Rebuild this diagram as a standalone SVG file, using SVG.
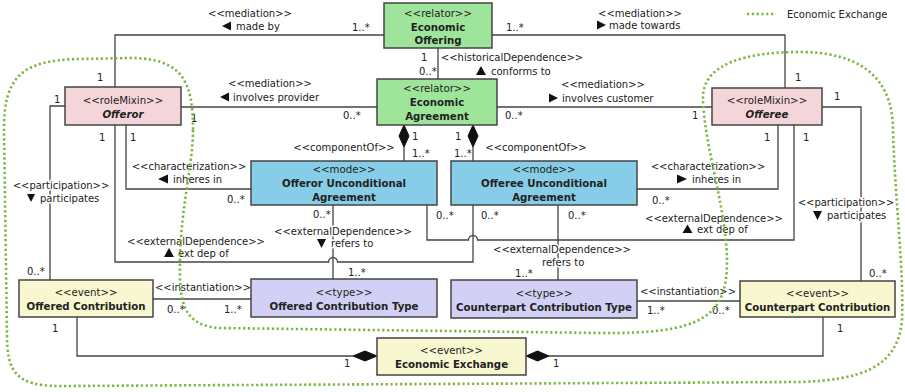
<svg xmlns="http://www.w3.org/2000/svg" width="905" height="392" viewBox="0 0 905 392">
  <style>
    text { font-family: "DejaVu Sans", "Liberation Sans", sans-serif; fill: #222; }
    .st { font-size: 10.2px; text-anchor: middle; }
    .nm { font-size: 10.2px; font-weight: bold; text-anchor: middle; }
    .it { font-style: italic; }
    .lb { font-size: 10px; paint-order: stroke; stroke: #fff; stroke-width: 3px; stroke-linejoin: round; }
    .c { text-anchor: middle; }
    .m { font-size: 10px; }
    .box { stroke: #444; stroke-width: 1.5; }
    .relator { fill: #9ee59b; }
    .role { fill: #f4d5da; }
    .mode { fill: #87cde8; }
    .type { fill: #d2d0f4; }
    .event { fill: #f8f7cf; }
    .edge { fill: none; stroke: #444; stroke-width: 1.3; }
    .dia { fill: #111; stroke: #111; stroke-width: 1; }
    .tri { fill: #111; }
    .group { fill: none; stroke: #7bb53f; stroke-width: 2.6; stroke-dasharray: 2.2 2.6; }
  </style>

  <!-- connectors -->
  <g id="connectors">
    <path class="edge" d="M115,87 V35 H384"/>
    <path class="edge" d="M492,35 H785 V88"/>
    <path class="edge" d="M181,107 H377"/>
    <path class="edge" d="M497,107 H712"/>
    <path class="edge" d="M438,48 V79"/>
    <path class="edge" d="M404,147 V161"/>
    <polygon class="dia" points="404,125 409,136 404,147 399,136"/>
    <path class="edge" d="M473,147 V161"/>
    <polygon class="dia" points="473,125 478,136 473,147 468,136"/>
    <path class="edge" d="M126,125 V189 H251"/>
    <path class="edge" d="M778,125 V189 H637"/>
    <path class="edge" d="M65,106 H50 V280"/>
    <path class="edge" d="M822,107 H861 V281"/>
    <path class="edge" d="M115,125 V262 H328.5 A4.5,4.5 0 0 1 337.5,262 H473 V205"/>
    <path class="edge" d="M427,205 V240 H468.5 A4.5,4.5 0 0 1 477.5,240 H794 V125"/>
    <path class="edge" d="M333,205 V279"/>
    <path class="edge" d="M558,205 V280"/>
    <path class="edge" d="M153,299 H251"/>
    <path class="edge" d="M637,301 H740"/>
    <path class="edge" d="M77,317 V356 H353"/>
    <polygon class="dia" points="377,356 365,351 353,356 365,361"/>
    <path class="edge" d="M823,317 V356 H549"/>
    <polygon class="dia" points="526,356 537.5,351 549,356 537.5,361"/>

    <!-- connector labels -->
    <text class="lb c" x="250" y="17">&lt;&lt;mediation&gt;&gt;</text>
    <polygon class="tri" points="222,26 231,21.5 231,30.5"/>
    <text class="lb" x="236" y="30">made by</text>

    <text class="lb c" x="640" y="17">&lt;&lt;mediation&gt;&gt;</text>
    <polygon class="tri" points="597,20.5 606,25 597,29.5"/>
    <text class="lb" x="609" y="29">made towards</text>

    <text class="lb c" x="270" y="87">&lt;&lt;mediation&gt;&gt;</text>
    <polygon class="tri" points="220,97 229,92.5 229,101.5"/>
    <text class="lb" x="233" y="101">involves provider</text>

    <text class="lb c" x="603" y="88">&lt;&lt;mediation&gt;&gt;</text>
    <polygon class="tri" points="549,93.5 558,98 549,102.5"/>
    <text class="lb" x="562" y="102">involves customer</text>

    <text class="lb c" x="512" y="61">&lt;&lt;historicalDependence&gt;&gt;</text>
    <polygon class="tri" points="481,66 486,75 476,75"/>
    <text class="lb" x="491" y="75">conforms to</text>

    <text class="lb c" x="344" y="151">&lt;&lt;componentOf&gt;&gt;</text>
    <text class="lb c" x="536" y="151">&lt;&lt;componentOf&gt;&gt;</text>

    <text class="lb c" x="189" y="170">&lt;&lt;characterization&gt;&gt;</text>
    <polygon class="tri" points="158,179 168,174.5 168,183.5"/>
    <text class="lb" x="173" y="183">inheres in</text>

    <text class="lb c" x="708" y="170">&lt;&lt;characterization&gt;&gt;</text>
    <polygon class="tri" points="677,174.5 687,179 677,183.5"/>
    <text class="lb" x="692" y="183">inheres in</text>

    <text class="lb c" x="61" y="189">&lt;&lt;participation&gt;&gt;</text>
    <polygon class="tri" points="27,194 35,194 31,202"/>
    <text class="lb" x="40" y="202">participates</text>

    <text class="lb c" x="846" y="206">&lt;&lt;participation&gt;&gt;</text>
    <polygon class="tri" points="813,211 822,211 817.5,220"/>
    <text class="lb" x="827" y="219">participates</text>

    <text class="lb c" x="196" y="245">&lt;&lt;externalDependence&gt;&gt;</text>
    <polygon class="tri" points="169,248 174,257 164,257"/>
    <text class="lb" x="178" y="257">ext dep of</text>

    <text class="lb c" x="343" y="235">&lt;&lt;externalDependence&gt;&gt;</text>
    <polygon class="tri" points="317,239 326,239 321.5,248"/>
    <text class="lb" x="331" y="247">refers to</text>

    <text class="lb c" x="714" y="222">&lt;&lt;externalDependence&gt;&gt;</text>
    <polygon class="tri" points="687.5,224.5 692.5,233 682.5,233"/>
    <text class="lb" x="697" y="233">ext dep of</text>

    <text class="lb c" x="562" y="253">&lt;&lt;externalDependence&gt;&gt;</text>
    <text class="lb" x="542" y="266">refers to</text>

    <text class="lb c" x="203" y="291">&lt;&lt;instantiation&gt;&gt;</text>
    <text class="lb c" x="688" y="295">&lt;&lt;instantiation&gt;&gt;</text>

    <!-- multiplicities -->
    <text class="m" x="352" y="31">1..*</text>
    <text class="m" x="97" y="81">1</text>
    <text class="m" x="506" y="31">1..*</text>
    <text class="m" x="795" y="81">1</text>
    <text class="m" x="191" y="122">1</text>
    <text class="m" x="343" y="119">0..*</text>
    <text class="m" x="421" y="61">1</text>
    <text class="m" x="419" y="75">0..*</text>
    <text class="m" x="505" y="119">0..*</text>
    <text class="m" x="692" y="119">1</text>
    <text class="m" x="834" y="100">1</text>
    <text class="m" x="54" y="103">1</text>
    <text class="m" x="130" y="141">1</text>
    <text class="m" x="99" y="141">1</text>
    <text class="m" x="227" y="203">0..*</text>
    <text class="m" x="412" y="140">1</text>
    <text class="m" x="412" y="157">1..*</text>
    <text class="m" x="455" y="140">1</text>
    <text class="m" x="454" y="157">1..*</text>
    <text class="m" x="313" y="218">0..*</text>
    <text class="m" x="436" y="219">0..*</text>
    <text class="m" x="481" y="219">0..*</text>
    <text class="m" x="568" y="219">0..*</text>
    <text class="m" x="652" y="204">0..*</text>
    <text class="m" x="764" y="141">1</text>
    <text class="m" x="803" y="141">1</text>
    <text class="m" x="348" y="276">1..*</text>
    <text class="m" x="515" y="277">1..*</text>
    <text class="m" x="869" y="277">0..*</text>
    <text class="m" x="27" y="275">0..*</text>
    <text class="m" x="167" y="313">0..*</text>
    <text class="m" x="224" y="313">1..*</text>
    <text class="m" x="647" y="314">1..*</text>
    <text class="m" x="712" y="314">0..*</text>
    <text class="m" x="52" y="332">1</text>
    <text class="m" x="344" y="367">1</text>
    <text class="m" x="553" y="367">1</text>
    <text class="m" x="837" y="332">1</text>
  </g>

  <!-- nodes -->
  <g id="economic-offering">
    <rect class="box relator" x="384" y="3" width="108" height="45"/>
    <text class="st" x="438" y="17">&lt;&lt;relator&gt;&gt;</text>
    <text class="nm" x="438" y="31">Economic</text>
    <text class="nm" x="438" y="44">Offering</text>
  </g>
  <g id="economic-agreement">
    <rect class="box relator" x="377" y="79" width="120" height="46"/>
    <text class="st" x="437" y="92">&lt;&lt;relator&gt;&gt;</text>
    <text class="nm" x="437" y="106">Economic</text>
    <text class="nm" x="437" y="120">Agreement</text>
  </g>
  <g id="offeror">
    <rect class="box role" x="65" y="87" width="116" height="38"/>
    <text class="st" x="123" y="104">&lt;&lt;roleMixin&gt;&gt;</text>
    <text class="nm it" x="123" y="118">Offeror</text>
  </g>
  <g id="offeree">
    <rect class="box role" x="712" y="88" width="110" height="37"/>
    <text class="st" x="767" y="104">&lt;&lt;roleMixin&gt;&gt;</text>
    <text class="nm it" x="767" y="118">Offeree</text>
  </g>
  <g id="offeror-unconditional-agreement">
    <rect class="box mode" x="251" y="161" width="186" height="44"/>
    <text class="st" x="344" y="173">&lt;&lt;mode&gt;&gt;</text>
    <text class="nm" x="344" y="187">Offeror Unconditional</text>
    <text class="nm" x="344" y="201">Agreement</text>
  </g>
  <g id="offeree-unconditional-agreement">
    <rect class="box mode" x="451" y="161" width="186" height="44"/>
    <text class="st" x="544" y="173">&lt;&lt;mode&gt;&gt;</text>
    <text class="nm" x="544" y="187">Offeree Unconditional</text>
    <text class="nm" x="544" y="201">Agreement</text>
  </g>
  <g id="offered-contribution">
    <rect class="box event" x="19" y="280" width="134" height="37"/>
    <text class="st" x="86" y="296">&lt;&lt;event&gt;&gt;</text>
    <text class="nm" x="86" y="310">Offered Contribution</text>
  </g>
  <g id="offered-contribution-type">
    <rect class="box type" x="251" y="279" width="186" height="38"/>
    <text class="st" x="344" y="296">&lt;&lt;type&gt;&gt;</text>
    <text class="nm" x="344" y="310">Offered Contribution Type</text>
  </g>
  <g id="counterpart-contribution-type">
    <rect class="box type" x="451" y="280" width="186" height="38"/>
    <text class="st" x="544" y="297">&lt;&lt;type&gt;&gt;</text>
    <text class="nm" x="544" y="311">Counterpart Contribution Type</text>
  </g>
  <g id="counterpart-contribution">
    <rect class="box event" x="740" y="281" width="155" height="36"/>
    <text class="st" x="817.5" y="297">&lt;&lt;event&gt;&gt;</text>
    <text class="nm" x="817.5" y="311">Counterpart Contribution</text>
  </g>
  <g id="economic-exchange">
    <rect class="box event" x="377" y="338" width="149" height="37"/>
    <text class="st" x="451.5" y="354">&lt;&lt;event&gt;&gt;</text>
    <text class="nm" x="451.5" y="368">Economic Exchange</text>
  </g>

  <!-- Economic Exchange grouping outline -->
  <g id="economic-exchange-scope">
    <path class="group" d="M193,130 C193,165 181,205 180,260 C179,300 182,326 220,328 L600,333 C700,334 727,318 727,262 C727,210 705,150 703,100 C701,62 750,52 800,52 C858,52 893,76 893,130 C895,200 904,270 902,320 C898,368 860,380 800,382 L60,386 C16,386 7,372 7,335 L4,130 C4,78 20,60 80,59 L130,58 C183,58 193,82 193,130 Z"/>
  </g>

  <!-- legend -->
  <g id="legend">
    <line class="group" x1="747" y1="14" x2="776" y2="14"/>
    <text class="m" x="787" y="18">Economic Exchange</text>
  </g>
</svg>
